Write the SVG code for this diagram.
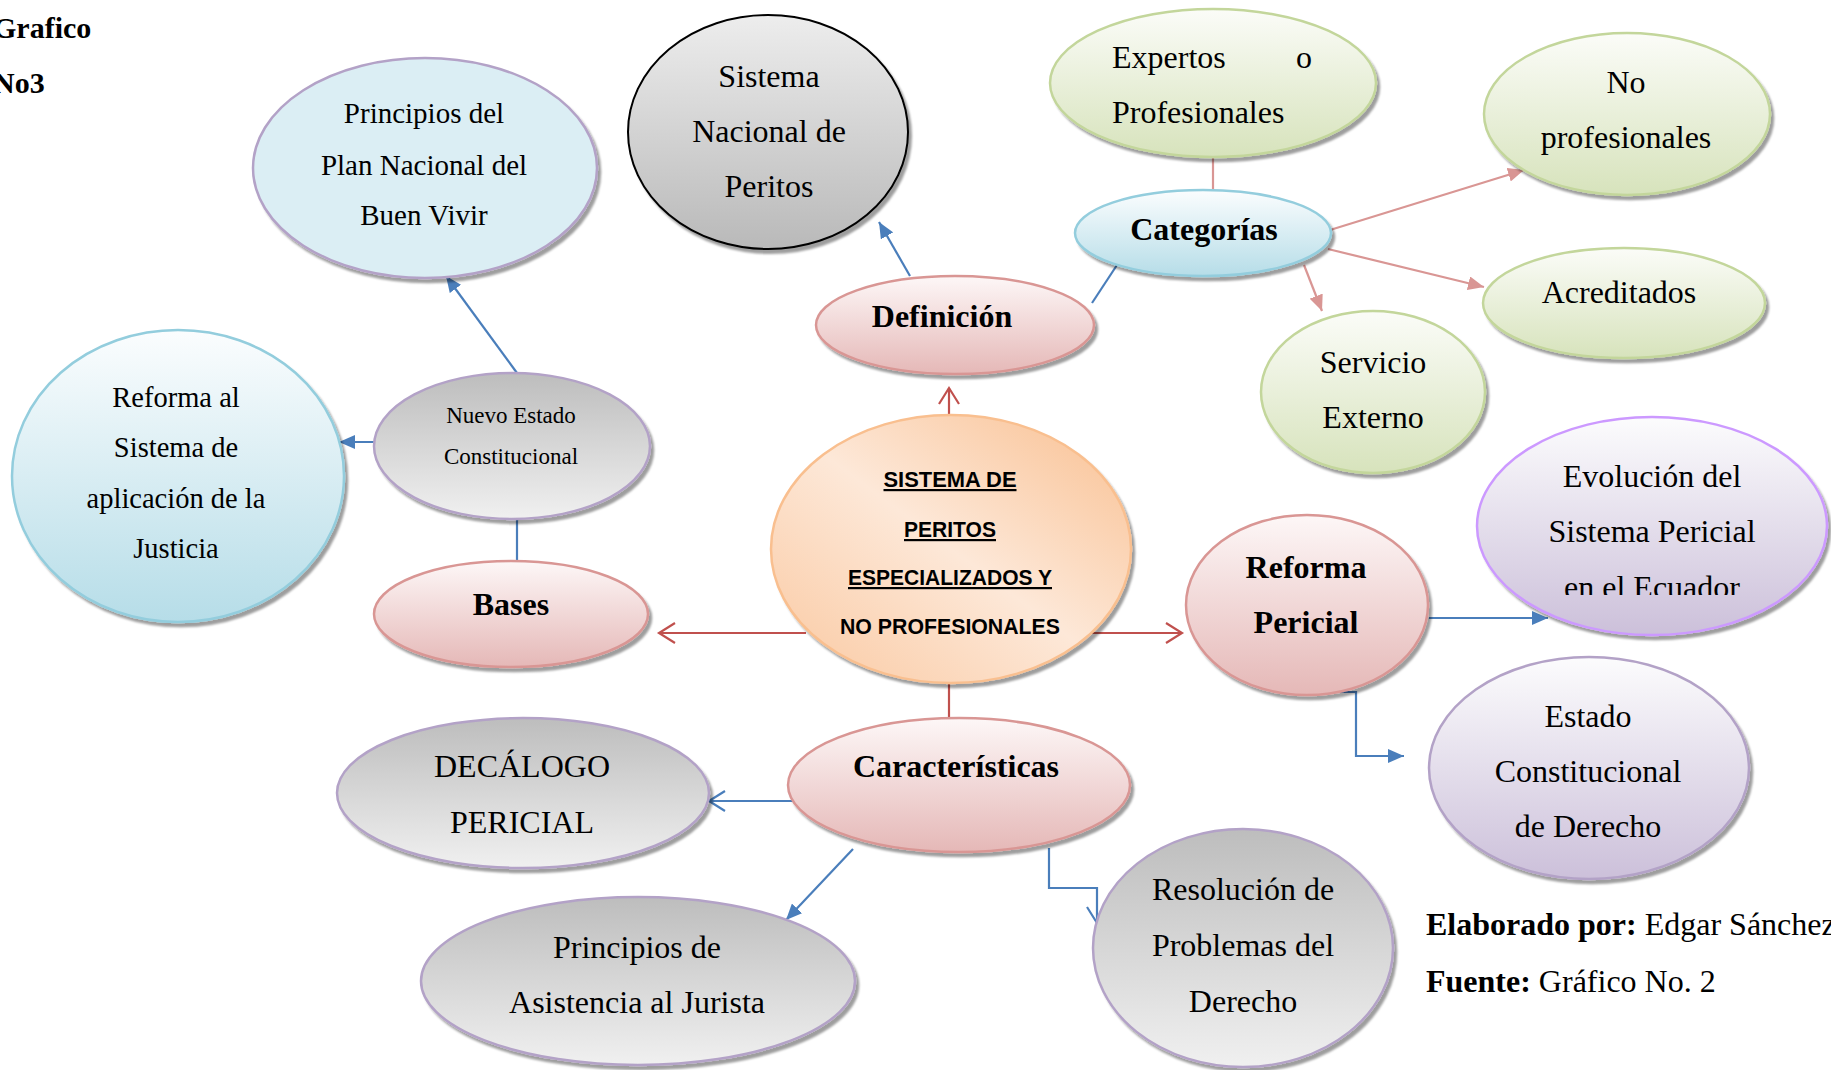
<svg xmlns="http://www.w3.org/2000/svg" width="1831" height="1070" viewBox="0 0 1831 1070">
<defs>
<linearGradient id="gPink" x1="0" y1="0" x2="0" y2="1"><stop offset="0" stop-color="#fdf7f7"/><stop offset="1" stop-color="#e5b8b7"/></linearGradient>
<linearGradient id="gGreen" x1="0" y1="0" x2="0" y2="1"><stop offset="0" stop-color="#fbfcf8"/><stop offset="1" stop-color="#d7e3bc"/></linearGradient>
<linearGradient id="gBlue" x1="0" y1="0" x2="0" y2="1"><stop offset="0" stop-color="#fbfdfe"/><stop offset="1" stop-color="#b6dde8"/></linearGradient>
<linearGradient id="gGrayDown" x1="0" y1="0" x2="0" y2="1"><stop offset="0" stop-color="#ededed"/><stop offset="1" stop-color="#b9b9b9"/></linearGradient>
<linearGradient id="gGrayUp" x1="0" y1="0" x2="0" y2="1"><stop offset="0" stop-color="#bdbdbd"/><stop offset="1" stop-color="#f0f0f0"/></linearGradient>
<linearGradient id="gPurple" x1="0" y1="0" x2="0" y2="1"><stop offset="0" stop-color="#fcfcfd"/><stop offset="1" stop-color="#ccc0da"/></linearGradient>
<linearGradient id="gOrange" x1="0" y1="1" x2="1" y2="0"><stop offset="0" stop-color="#fac8a0"/><stop offset="0.5" stop-color="#fde8d8"/><stop offset="1" stop-color="#f9bf90"/></linearGradient>
<filter id="sh" x="-10%" y="-10%" width="125%" height="130%"><feDropShadow dx="3" dy="4" stdDeviation="1.2" flood-color="#000" flood-opacity="0.38"/></filter>
<marker id="aBlue" markerUnits="userSpaceOnUse" markerWidth="16" markerHeight="14" refX="16" refY="7" orient="auto"><path d="M0,0 L16,7 L0,14 z" fill="#4a7ebb"/></marker>
<marker id="aPink" markerUnits="userSpaceOnUse" markerWidth="16" markerHeight="14" refX="16" refY="7" orient="auto"><path d="M0,0 L16,7 L0,14 z" fill="#d99694"/></marker>
<marker id="vRed" markerUnits="userSpaceOnUse" markerWidth="20" markerHeight="22" refX="17" refY="11" orient="auto"><path d="M1,1 L17,11 L1,21" fill="none" stroke="#c0504d" stroke-width="2.2"/></marker>
<marker id="vBlue" markerUnits="userSpaceOnUse" markerWidth="20" markerHeight="22" refX="17" refY="11" orient="auto"><path d="M1,1 L17,11 L1,21" fill="none" stroke="#4a7ebb" stroke-width="2.2"/></marker>
<clipPath id="clipEvo"><rect x="1470" y="410" width="361" height="185"/></clipPath>
<clipPath id="clipCenter"><rect x="760" y="400" width="380" height="236"/></clipPath>
</defs>
<style>
.t{font-family:"Liberation Serif","Times New Roman",serif;font-size:32px;fill:#000;text-anchor:middle}
.b{font-weight:bold}
.c{font-family:"Liberation Sans",Arial,sans-serif;font-weight:bold;font-size:22px;fill:#000;text-anchor:middle}
.u{text-decoration:underline}
.pink{fill:url(#gPink);stroke:#d99694;stroke-width:2.5}
.green{fill:url(#gGreen);stroke:#c3d69b;stroke-width:2.5}
.blue{fill:url(#gBlue);stroke:#93cddd;stroke-width:2.5}
.grayd{fill:url(#gGrayDown);stroke:#000;stroke-width:2}
.grayu{fill:url(#gGrayUp);stroke:#b3a2c7;stroke-width:2.5}
.purple{fill:url(#gPurple);stroke:#b3a2c7;stroke-width:2.5}
.ln{fill:none;stroke-width:2.2}
</style>
<rect width="1831" height="1070" fill="#fff"/>

<g id="title">
<text class="t b" x="-7" y="38" style="text-anchor:start;font-size:30px">Grafico</text>
<text class="t b" x="-7" y="93" style="text-anchor:start;font-size:30px">No3</text>
</g>

<g id="connectors">
<line class="ln" x1="949" y1="415" x2="949" y2="388" stroke="#c0504d" marker-end="url(#vRed)"/>
<line class="ln" x1="806" y1="633" x2="659" y2="633" stroke="#c0504d" marker-end="url(#vRed)"/>
<line class="ln" x1="1092" y1="633" x2="1182" y2="633" stroke="#c0504d" marker-end="url(#vRed)"/>
<line class="ln" x1="949" y1="682" x2="949" y2="718" stroke="#c0504d"/>
<line class="ln" x1="910" y1="276" x2="879" y2="222" stroke="#4a7ebb" marker-end="url(#aBlue)"/>
<line class="ln" x1="1092" y1="303" x2="1117" y2="265" stroke="#4a7ebb"/>
<line class="ln" x1="1213" y1="157" x2="1213" y2="190" stroke="#d99694"/>
<line class="ln" x1="1330" y1="230" x2="1524" y2="170" stroke="#d99694" marker-end="url(#aPink)"/>
<line class="ln" x1="1328" y1="249" x2="1484" y2="287" stroke="#d99694" marker-end="url(#aPink)"/>
<line class="ln" x1="1304" y1="265" x2="1322" y2="311" stroke="#d99694" marker-end="url(#aPink)"/>
<line class="ln" x1="517" y1="373" x2="446" y2="276" stroke="#4a7ebb" marker-end="url(#aBlue)"/>
<line class="ln" x1="374" y1="442" x2="339" y2="442" stroke="#4a7ebb" marker-end="url(#aBlue)"/>
<line class="ln" x1="517" y1="519" x2="517" y2="561" stroke="#4a7ebb"/>
<line class="ln" x1="1429" y1="618" x2="1548" y2="618" stroke="#4a7ebb" marker-end="url(#aBlue)"/>
<polyline class="ln" points="1330,692 1356,692 1356,756 1404,756" stroke="#4a7ebb" marker-end="url(#aBlue)"/>
<line class="ln" x1="794" y1="801" x2="709" y2="801" stroke="#4a7ebb" marker-end="url(#vBlue)"/>
<line class="ln" x1="853" y1="849" x2="786" y2="920" stroke="#4a7ebb" marker-end="url(#aBlue)"/>
<polyline class="ln" points="1049,848 1049,888 1097,888 1097,923" stroke="#4a7ebb" marker-end="url(#vBlue)"/>
</g>

<g id="principios-plan">
<ellipse cx="425" cy="168" rx="172" ry="110" fill="#dbeef4" stroke="#b3a2c7" stroke-width="2.5" filter="url(#sh)"/>
<text class="t" x="424" y="123" style="font-size:29px">Principios del</text>
<text class="t" x="424" y="175" style="font-size:29px">Plan Nacional del</text>
<text class="t" x="424" y="225" style="font-size:29px">Buen Vivir</text>
</g>

<g id="sistema-nacional">
<ellipse cx="768" cy="132" rx="140" ry="117" class="grayd" filter="url(#sh)"/>
<text class="t" x="769" y="87">Sistema</text>
<text class="t" x="769" y="142">Nacional de</text>
<text class="t" x="769" y="197">Peritos</text>
</g>

<g id="expertos">
<ellipse cx="1213" cy="83" rx="163" ry="74" class="green" filter="url(#sh)"/>
<text class="t" x="1112" y="68" style="text-anchor:start">Expertos</text>
<text class="t" x="1296" y="68" style="text-anchor:start">o</text>
<text class="t" x="1112" y="123" style="text-anchor:start">Profesionales</text>
</g>

<g id="no-profesionales">
<ellipse cx="1627" cy="114" rx="143" ry="81" class="green" filter="url(#sh)"/>
<text class="t" x="1626" y="93">No</text>
<text class="t" x="1626" y="148">profesionales</text>
</g>

<g id="categorias">
<ellipse cx="1203" cy="233" rx="128" ry="43" class="blue" filter="url(#sh)"/>
<text class="t b" x="1204" y="240">Categorías</text>
</g>

<g id="acreditados">
<ellipse cx="1624" cy="303" rx="141" ry="55" class="green" filter="url(#sh)"/>
<text class="t" x="1619" y="303">Acreditados</text>
</g>

<g id="definicion">
<ellipse cx="955" cy="325" rx="139" ry="49" class="pink" filter="url(#sh)"/>
<text class="t b" x="942" y="327">Definición</text>
</g>

<g id="servicio-externo">
<ellipse cx="1373" cy="392" rx="112" ry="81" class="green" filter="url(#sh)"/>
<text class="t" x="1373" y="373">Servicio</text>
<text class="t" x="1373" y="428">Externo</text>
</g>

<g id="reforma-al">
<ellipse cx="178" cy="476" rx="166" ry="146" class="blue" filter="url(#sh)"/>
<text class="t" x="176" y="407" style="font-size:28.5px">Reforma al</text>
<text class="t" x="176" y="457" style="font-size:28.5px">Sistema de</text>
<text class="t" x="176" y="508" style="font-size:28.5px">aplicación de la</text>
<text class="t" x="176" y="558" style="font-size:28.5px">Justicia</text>
</g>

<g id="nuevo-estado">
<ellipse cx="512" cy="446" rx="138" ry="73" class="grayu" filter="url(#sh)"/>
<text class="t" x="511" y="423" style="font-size:23px">Nuevo Estado</text>
<text class="t" x="511" y="464" style="font-size:23px">Constitucional</text>
</g>

<g id="bases">
<ellipse cx="511" cy="614" rx="137" ry="53" class="pink" filter="url(#sh)"/>
<text class="t b" x="511" y="615">Bases</text>
</g>

<g id="centro">
<ellipse cx="951" cy="549" rx="180" ry="134" fill="url(#gOrange)" stroke="#f9bf8f" stroke-width="2.5" filter="url(#sh)"/>
<g clip-path="url(#clipCenter)">
<text class="c u" x="950" y="487" textLength="133" lengthAdjust="spacingAndGlyphs">SISTEMA DE</text>
<text class="c u" x="950" y="537" textLength="92" lengthAdjust="spacingAndGlyphs">PERITOS</text>
<text class="c u" x="950" y="585" textLength="204" lengthAdjust="spacingAndGlyphs">ESPECIALIZADOS Y</text>
<text class="c" x="950" y="634" textLength="220" lengthAdjust="spacingAndGlyphs">NO PROFESIONALES</text>
</g>
</g>

<g id="reforma-pericial">
<ellipse cx="1307" cy="605" rx="121" ry="90" class="pink" filter="url(#sh)"/>
<text class="t b" x="1306" y="578">Reforma</text>
<text class="t b" x="1306" y="633">Pericial</text>
</g>

<g id="evolucion">
<ellipse cx="1652" cy="526" rx="175" ry="109" fill="url(#gPurple)" stroke="#cc99ff" stroke-width="2.5" filter="url(#sh)"/>
<text class="t" x="1652" y="487">Evolución del</text>
<text class="t" x="1652" y="542">Sistema Pericial</text>
<text class="t" x="1652" y="598" clip-path="url(#clipEvo)">en el Ecuador</text>
</g>

<g id="estado-constitucional">
<ellipse cx="1589" cy="768" rx="160" ry="111" class="purple" filter="url(#sh)"/>
<text class="t" x="1588" y="727">Estado</text>
<text class="t" x="1588" y="782">Constitucional</text>
<text class="t" x="1588" y="837">de Derecho</text>
</g>

<g id="caracteristicas">
<ellipse cx="959" cy="785" rx="171" ry="67" class="pink" filter="url(#sh)"/>
<text class="t b" x="956" y="777">Características</text>
</g>

<g id="decalogo">
<ellipse cx="523" cy="793" rx="186" ry="75" class="grayu" filter="url(#sh)"/>
<text class="t" x="522" y="777">DECÁLOGO</text>
<text class="t" x="522" y="833">PERICIAL</text>
</g>

<g id="principios-asistencia">
<ellipse cx="638" cy="981" rx="217" ry="84" class="grayu" filter="url(#sh)"/>
<text class="t" x="637" y="958">Principios de</text>
<text class="t" x="637" y="1013">Asistencia al Jurista</text>
</g>

<g id="resolucion">
<ellipse cx="1243" cy="948" rx="150" ry="119" class="grayu" filter="url(#sh)"/>
<text class="t" x="1243" y="900">Resolución de</text>
<text class="t" x="1243" y="956">Problemas del</text>
<text class="t" x="1243" y="1012">Derecho</text>
</g>

<g id="credits">
<text class="t" x="1426" y="935" style="text-anchor:start"><tspan font-weight="bold">Elaborado por:</tspan> Edgar Sánchez</text>
<text class="t" x="1426" y="992" style="text-anchor:start"><tspan font-weight="bold">Fuente:</tspan> Gráfico No. 2</text>
</g>
</svg>
